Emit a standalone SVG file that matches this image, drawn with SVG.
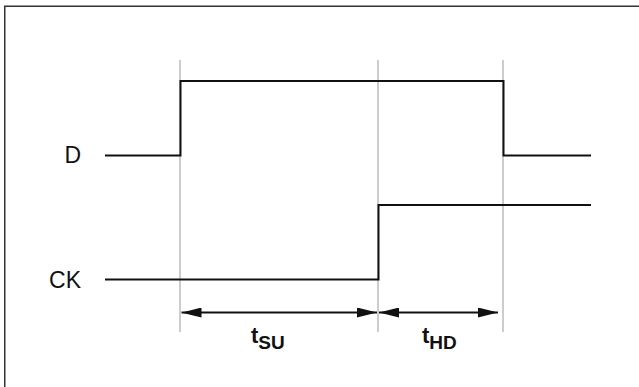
<svg xmlns="http://www.w3.org/2000/svg" width="639" height="387" viewBox="0 0 639 387">
<style>
.frame{fill:none;stroke:#333;stroke-width:1.5}
.guide{stroke:#bbb;stroke-width:1.5;fill:none}
.sig{stroke:#111;stroke-width:2;fill:none}
.dim{stroke:#111;stroke-width:2;fill:none;marker-start:url(#ah);marker-end:url(#ah)}
.lbl{font-family:"Liberation Sans",Arial,sans-serif;font-size:23px;fill:#111}
.t{font-family:"Liberation Sans",Arial,sans-serif;font-weight:bold;font-size:22px;fill:#111}
.sub{font-size:19px}
</style>
<defs>
<marker id="ah" viewBox="0 0 20 10" refX="20" refY="5" markerWidth="20" markerHeight="10" markerUnits="userSpaceOnUse" orient="auto-start-reverse">
<path d="M0,0 L20,5 L0,10 Z" fill="#111"/>
</marker>
</defs>
<rect class="frame" x="4.75" y="6.25" width="660" height="400"/>
<g id="guides">
<line class="guide" x1="180" y1="60" x2="180" y2="332"/>
<line class="guide" x1="378" y1="60" x2="378" y2="332"/>
<line class="guide" x1="503" y1="60" x2="503" y2="332"/>
</g>
<g id="signal-D">
<text class="lbl" x="81" y="163" text-anchor="end">D</text>
<polyline class="sig" points="105,155.5 180.5,155.5 180.5,81 503.5,81 503.5,155.5 591,155.5"/>
</g>
<g id="signal-CK">
<text class="lbl" x="81" y="288" text-anchor="end">CK</text>
<polyline class="sig" points="105,279.5 378.5,279.5 378.5,205 591,205"/>
</g>
<g id="connectors">
<line class="dim" x1="181.5" y1="312.5" x2="377" y2="312.5"/>
<line class="dim" x1="379" y1="312.5" x2="498" y2="312.5"/>
</g>
<g id="label-tsu">
<text class="t" x="251" y="342.5">t<tspan class="sub" dy="6">SU</tspan></text>
</g>
<g id="label-thd">
<text class="t" x="422" y="342.5">t<tspan class="sub" dy="6">HD</tspan></text>
</g>
</svg>
